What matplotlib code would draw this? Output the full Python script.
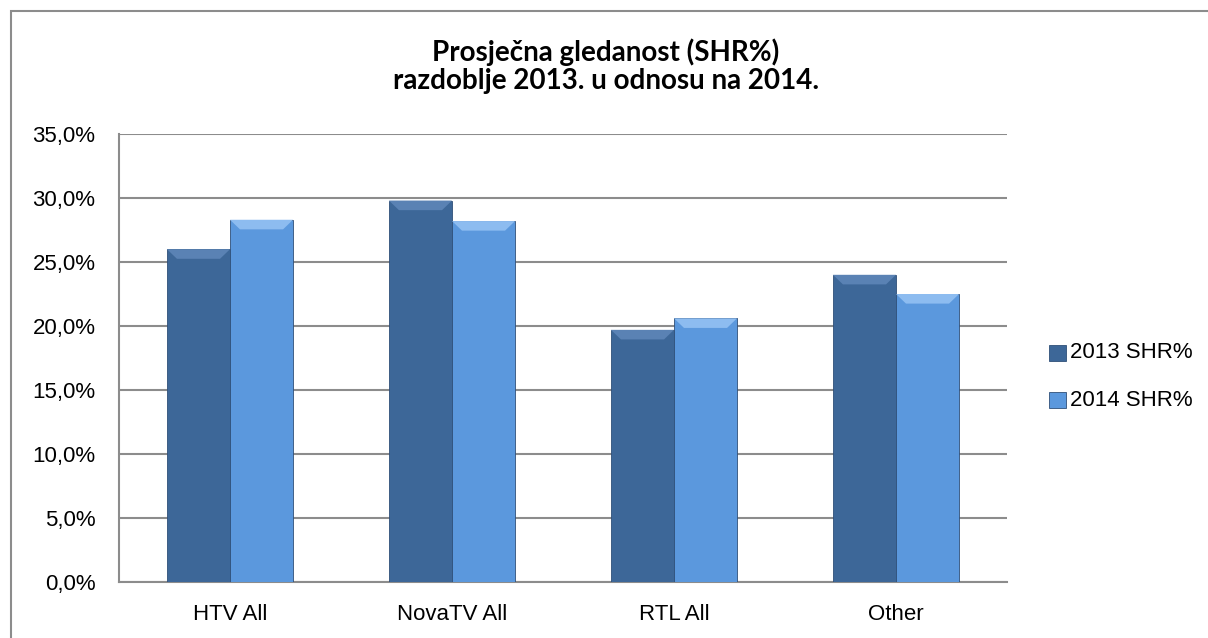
import numpy as np
import matplotlib
matplotlib.use('Agg')
import matplotlib.pyplot as plt
from matplotlib.patches import Rectangle, Polygon

# data
categories = ['HTV All', 'NovaTV All', 'RTL All', 'Other']
shr_2013 = [26.0, 29.8, 19.7, 24.0]
shr_2014 = [28.3, 28.2, 20.6, 22.5]
series_names = ['2013 SHR%', '2014 SHR%']
yticks = [0, 5, 10, 15, 20, 25, 30, 35]

col_dark = '#3d6798'
col_light = '#5b98dd'
top_dark = '#5a82b4'
top_light = '#8dbcf0'

W, H = 1208, 638
fig = plt.figure(figsize=(W/100, H/100), dpi=100)

# outer chart border (right / bottom edges cut off like the reference)
fig.patches.append(Rectangle((11/W, -0.05), 1.2, 1 - 11/H + 0.05, transform=fig.transFigure,
                             fill=False, edgecolor='#8c8c8c', lw=1.5))

ax = fig.add_axes([119/W, 1 - 582/H, (1007-119)/W, (582-134)/H])

x = np.arange(len(categories))
bw = 0.284

def draw_bars(xs, vals, col, topcol):
    bars = ax.bar(xs, vals, bw, color=col, edgecolor='#2f4f78', linewidth=0.6, zorder=3)
    # small bevel on top of each bar
    for b in bars:
        x0 = b.get_x()
        x1 = x0 + b.get_width()
        h = b.get_height()
        d = 0.045
        bev = Polygon([(x0, h), (x1, h), (x1 - d, h - 0.75), (x0 + d, h - 0.75)],
                      closed=True, facecolor=topcol, edgecolor='none', zorder=4)
        ax.add_patch(bev)
    return bars

draw_bars(x - bw/2, shr_2013, col_dark, top_dark)
draw_bars(x + bw/2, shr_2014, col_light, top_light)

ax.set_xlim(-0.5, len(categories) - 0.5)
ax.set_ylim(0, 35)
ax.set_yticks(yticks)
ax.set_yticklabels([f'{v:.1f}%'.replace('.', ',') for v in yticks])
ax.set_xticks(x)
ax.set_xticklabels(categories)
ax.yaxis.grid(True, color='#8c8c8c', lw=1.5, zorder=0)
ax.set_axisbelow(True)
for s in ['top', 'right']:
    ax.spines[s].set_visible(False)
for s in ['left', 'bottom']:
    ax.spines[s].set_color('#8c8c8c')
    ax.spines[s].set_linewidth(1.5)
ax.tick_params(length=0, labelsize=16, pad=17)
ax.tick_params(axis='x', pad=16)
for t in ax.get_xticklabels() + ax.get_yticklabels():
    t.set_fontfamily('Liberation Sans')

# legend
for i, (name, c) in enumerate(zip(series_names, [col_dark, col_light])):
    ym = 1 - (353 + i*47)/H
    fig.patches.append(Rectangle((1049/W, ym - 8/H), 17/W, 16/H, transform=fig.transFigure,
                                 facecolor=c, edgecolor='#2f4f78', lw=0.6))
    fig.text(1070/W, ym, name, fontsize=16, family='Liberation Sans', va='center', ha='left')

fig.text(606/W, 1 - 52/H, 'Prosječna gledanost (SHR%)', fontsize=20, fontweight='bold',
         family='Lato', ha='center', va='center')
fig.text(606/W, 1 - 81/H, 'razdoblje 2013. u odnosu na 2014.', fontsize=20, fontweight='bold',
         family='Lato', ha='center', va='center')

fig.savefig('out.png', dpi=100)
